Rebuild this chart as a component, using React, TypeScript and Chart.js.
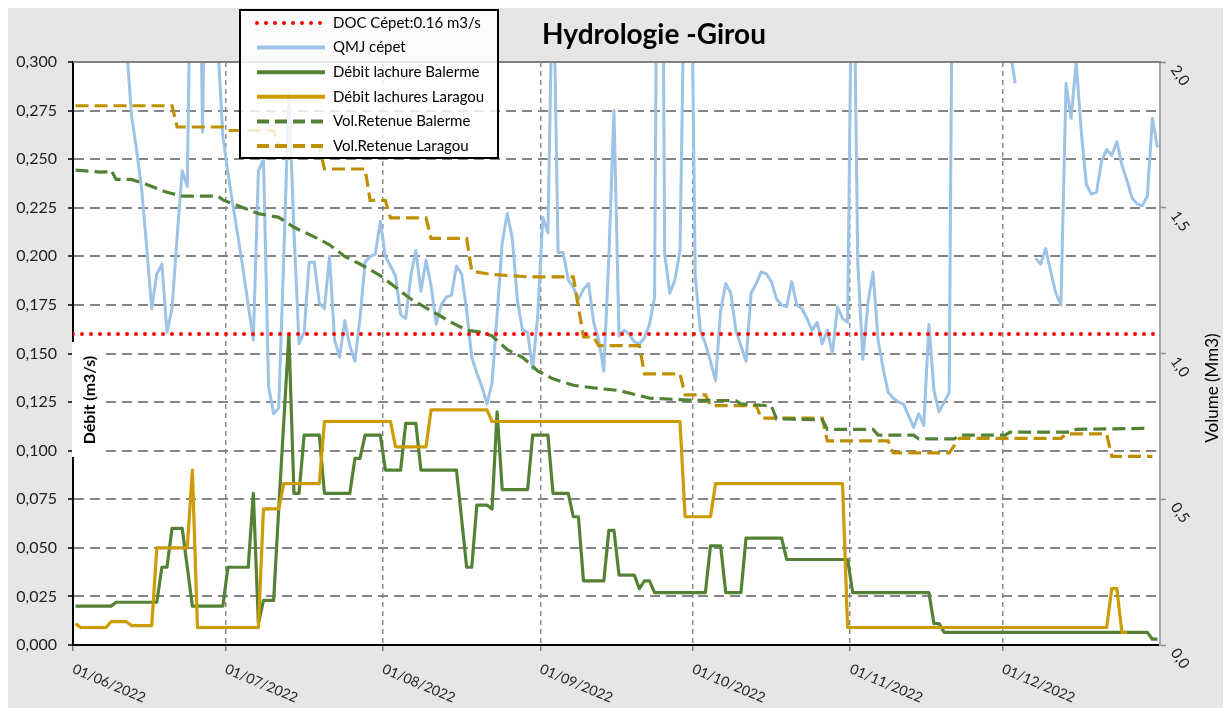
import React, { useEffect, useRef } from 'react';
import { Chart, registerables } from 'chart.js';

Chart.register(...registerables);

// ---------- DATA ----------
const chartTitle = 'Hydrologie -Girou';
const monthStarts = [0, 30, 61, 92, 122, 153, 183]; // day index (0 = 01/06/2022)
const monthLabels = ['01/06/2022', '01/07/2022', '01/08/2022', '01/09/2022', '01/10/2022', '01/11/2022', '01/12/2022'];
const flowTicks = [0, 0.025, 0.05, 0.075, 0.1, 0.125, 0.15, 0.175, 0.2, 0.225, 0.25, 0.275, 0.3];
const volumeTicks = [0, 0.5, 1, 1.5, 2];
const dayMin = -0.5;
const dayMax = 213.5;

const docThreshold = 0.16;

// QMJ Cépet daily mean flow (m3/s), one value per day from 01/06/2022
const qmjCepet: (number | null)[] = [
  0.46, 0.50, 0.44, 0.40, 0.42, 0.38, 0.36, 0.41, 0.37, 0.34,
  0.31, 0.273, 0.255, 0.235, 0.205, 0.173, 0.191, 0.196, 0.161, 0.173,
  0.210, 0.244, 0.236, 0.42, 0.45, 0.264, 0.45, 0.40, 0.31, 0.262,
  0.243, 0.226, 0.210, 0.193, 0.175, 0.157, 0.244, 0.250, 0.133, 0.119,
  0.122, 0.200, 0.284, 0.213, 0.155, 0.161, 0.197, 0.197, 0.176, 0.173,
  0.200, 0.157, 0.148, 0.167, 0.154, 0.146, 0.168, 0.197, 0.200, 0.201,
  0.218, 0.200, 0.195, 0.190, 0.170, 0.168, 0.190, 0.203, 0.182, 0.198,
  0.185, 0.165, 0.175, 0.179, 0.180, 0.195, 0.191, 0.172, 0.148, 0.140,
  0.133, 0.124, 0.135, 0.170, 0.207, 0.222, 0.209, 0.177, 0.162, 0.161,
  0.142, 0.170, 0.220, 0.212, 0.36, 0.202, 0.202, 0.188, 0.184, 0.178,
  0.183, 0.186, 0.166, 0.157, 0.141, 0.200, 0.275, 0.159, 0.162, 0.160,
  0.156, 0.155, 0.158, 0.165, 0.179, 0.60, 0.201, 0.181, 0.188, 0.203,
  0.37, 0.41, 0.190, 0.162, 0.155, 0.146, 0.136, 0.172, 0.186, 0.181,
  0.162, 0.154, 0.146, 0.181, 0.186, 0.192, 0.191, 0.187, 0.178, 0.175,
  0.174, 0.187, 0.175, 0.173, 0.168, 0.162, 0.166, 0.155, 0.162, 0.150,
  0.174, 0.168, 0.166, 0.40, 0.197, 0.147, 0.176, 0.192, 0.157, 0.142,
  0.130, 0.127, 0.125, 0.124, 0.118, 0.112, 0.119, 0.113, 0.165, 0.131,
  0.120, 0.125, 0.130, 0.50, 0.70, 0.62, 0.55, 0.48, 0.52, 0.45,
  0.40, 0.38, 0.36, 0.34, 0.306, 0.289, null, null, null, 0.199,
  0.196, 0.204, 0.192, 0.181, 0.175, 0.289, 0.271, 0.300, 0.264, 0.237,
  0.232, 0.233, 0.249, 0.255, 0.252, 0.259, 0.247, 0.239, 0.230, 0.227,
  0.226, 0.231, 0.271, 0.256,
];

// Débit lachure Balerme (m3/s) – days where the value changes
const balermeDays = [0, 7, 8, 16, 17, 18, 19, 21, 22, 23, 29, 30, 34, 35, 36, 37, 39, 40, 41, 42, 43, 44, 45, 48, 49, 54, 55, 56, 57, 60, 61, 64, 65, 67, 68, 75, 76, 77, 78, 79, 81, 82, 83, 84, 89, 90, 93, 94, 97, 98, 99, 100, 104, 105, 106, 107, 110, 111, 112, 113, 114, 124, 125, 127, 128, 131, 132, 139, 140, 152, 153, 168, 169, 170, 171, 211, 212, 213];
const balermeFlow = [0.020, 0.020, 0.022, 0.022, 0.040, 0.040, 0.060, 0.060, 0.040, 0.020, 0.020, 0.040, 0.040, 0.078, 0.011, 0.023, 0.023, 0.070, 0.115, 0.160, 0.078, 0.078, 0.108, 0.108, 0.078, 0.078, 0.096, 0.096, 0.108, 0.108, 0.090, 0.090, 0.114, 0.114, 0.090, 0.090, 0.065, 0.040, 0.040, 0.072, 0.072, 0.070, 0.120, 0.080, 0.080, 0.108, 0.108, 0.078, 0.078, 0.066, 0.066, 0.033, 0.033, 0.059, 0.059, 0.036, 0.036, 0.029, 0.033, 0.033, 0.027, 0.027, 0.051, 0.051, 0.027, 0.027, 0.055, 0.055, 0.044, 0.044, 0.027, 0.027, 0.011, 0.011, 0.0065, 0.0065, 0.003, 0.003];

// Débit lachures Laragou (m3/s)
const laragouDays = [0, 1, 6, 7, 10, 11, 15, 16, 22, 23, 24, 36, 37, 40, 41, 48, 49, 62, 63, 69, 70, 81, 82, 119, 120, 125, 126, 151, 152, 203, 204, 205, 206, 207];
const laragouFlow = [0.011, 0.009, 0.009, 0.012, 0.012, 0.010, 0.010, 0.050, 0.050, 0.090, 0.009, 0.009, 0.070, 0.070, 0.083, 0.083, 0.115, 0.115, 0.102, 0.102, 0.121, 0.121, 0.115, 0.115, 0.066, 0.066, 0.083, 0.083, 0.009, 0.009, 0.029, 0.029, 0.0065, 0.0065];

// Vol.Retenue Balerme (Mm3)
const volBalermeDays = [0, 5, 6, 7, 8, 11, 14, 18, 21, 28, 29, 32, 36, 40, 43, 47, 50, 53, 56, 60, 63, 66, 70, 74, 77, 80, 82, 85, 88, 91, 94, 98, 103, 107, 113, 121, 130, 131, 137, 138, 147, 148, 157, 158, 165, 166, 173, 174, 183, 184, 196, 197, 211];
const volBalerme = [1.629, 1.622, 1.623, 1.629, 1.597, 1.597, 1.580, 1.553, 1.540, 1.540, 1.527, 1.507, 1.480, 1.467, 1.433, 1.400, 1.373, 1.333, 1.307, 1.267, 1.227, 1.187, 1.147, 1.107, 1.080, 1.073, 1.060, 1.013, 0.987, 0.940, 0.913, 0.891, 0.880, 0.873, 0.847, 0.840, 0.838, 0.827, 0.820, 0.776, 0.773, 0.740, 0.740, 0.720, 0.720, 0.707, 0.707, 0.720, 0.720, 0.730, 0.730, 0.740, 0.743];

// Vol.Retenue Laragou (Mm3)
const volLaragouDays = [0, 19, 20, 29, 30, 39, 40, 48, 49, 57, 58, 61, 62, 69, 70, 77, 78, 82, 89, 98, 100, 102, 103, 111, 112, 119, 120, 124, 125, 134, 135, 147, 148, 160, 161, 172, 174, 194, 195, 203, 204, 212];
const volLaragou = [1.850, 1.850, 1.777, 1.777, 1.765, 1.765, 1.711, 1.711, 1.633, 1.633, 1.525, 1.525, 1.465, 1.465, 1.395, 1.395, 1.282, 1.271, 1.263, 1.263, 1.057, 1.057, 1.027, 1.027, 0.930, 0.930, 0.858, 0.858, 0.821, 0.821, 0.778, 0.778, 0.700, 0.700, 0.659, 0.659, 0.709, 0.709, 0.724, 0.724, 0.647, 0.647];

// ---------- STYLE ----------
const FONT = 'Lato, "Open Sans", "DejaVu Sans", sans-serif';
const C_BLUE = '#9dc3e6';
const C_GREEN = '#548235';
const C_ORANGE = '#cc9c00';
const C_ORANGE_D = '#bf9000';
const C_RED = '#ff0000';
const DASH = [13, 6];

const zip = (xs: number[], ys: (number | null)[]) => xs.map((x, i) => ({ x, y: ys[i] }));

const legendStyles = [
  { color: C_RED, dash: [0, 9], width: 4, cap: 'round' as CanvasLineCap },
  { color: C_BLUE, dash: [], width: 4, cap: 'butt' as CanvasLineCap },
  { color: C_GREEN, dash: [], width: 4, cap: 'butt' as CanvasLineCap },
  { color: C_ORANGE, dash: [], width: 4, cap: 'butt' as CanvasLineCap },
  { color: C_GREEN, dash: [12, 6], width: 4, cap: 'butt' as CanvasLineCap },
  { color: C_ORANGE_D, dash: [12, 6], width: 4, cap: 'butt' as CanvasLineCap },
];

const decorPlugin = {
  id: 'decor',
  beforeDraw(chart: any) {
    const { ctx, chartArea: a, width, height } = chart;
    ctx.save();
    ctx.fillStyle = '#e6e6e6';
    ctx.fillRect(0, 0, width, height);
    ctx.fillStyle = '#ffffff';
    ctx.fillRect(a.left, a.top, a.right - a.left, a.bottom - a.top);
    ctx.restore();
  },
  afterDraw(chart: any) {
    const { ctx, chartArea: a, scales } = chart;
    const xs = scales.x, ys = scales.y, y1 = scales.y1;
    ctx.save();
    // top frame
    ctx.strokeStyle = '#7f7f7f';
    ctx.lineWidth = 2;
    ctx.beginPath();
    ctx.moveTo(a.left, a.top);
    ctx.lineTo(a.right + 1, a.top);
    ctx.stroke();

    // title
    ctx.fillStyle = '#000';
    ctx.font = `bold 28px ${FONT}`;
    ctx.textAlign = 'center';
    ctx.textBaseline = 'alphabetic';
    ctx.fillText(chartTitle, 646, 36);

    // left tick labels
    ctx.fillStyle = '#1f1f1f';
    ctx.font = `16px ${FONT}`;
    ctx.textAlign = 'right';
    ctx.textBaseline = 'middle';
    flowTicks.forEach((v) => {
      ctx.fillText(v.toFixed(3).replace('.', ','), a.left - 16, ys.getPixelForValue(v));
    });

    // right tick labels (rotated)
    ctx.font = `15px ${FONT}`;
    ctx.textAlign = 'left';
    ctx.textBaseline = 'middle';
    volumeTicks.forEach((v) => {
      const py = y1.getPixelForValue(v);
      ctx.save();
      ctx.translate(a.right + 14, py + 5);
      ctx.rotate((55 * Math.PI) / 180);
      ctx.fillText(v.toFixed(1).replace('.', ','), 0, 0);
      ctx.restore();
    });

    // x tick labels (rotated)
    ctx.font = `14px ${FONT}`;
    ctx.textAlign = 'left';
    ctx.textBaseline = 'top';
    monthStarts.forEach((d, i) => {
      const px = xs.getPixelForValue(d - 0.5);
      ctx.save();
      ctx.translate(px + 3, a.bottom + 17);
      ctx.rotate((23 * Math.PI) / 180);
      ctx.fillText(monthLabels[i], 0, 0);
      ctx.restore();
    });

    // left axis title with white box
    ctx.fillStyle = '#ffffff';
    ctx.fillRect(a.left - 1, a.top + 280, 32, 115);
    ctx.save();
    ctx.translate(a.left + 17, a.top + 338);
    ctx.rotate(-Math.PI / 2);
    ctx.fillStyle = '#000';
    ctx.font = `bold 16px ${FONT}`;
    ctx.textAlign = 'center';
    ctx.textBaseline = 'middle';
    ctx.fillText('Débit (m3/s)', 0, 0);
    ctx.restore();

    // right axis title
    ctx.save();
    ctx.translate(a.right + 53, a.top + 326);
    ctx.rotate(-Math.PI / 2);
    ctx.fillStyle = '#000';
    ctx.font = `17px ${FONT}`;
    ctx.textAlign = 'center';
    ctx.textBaseline = 'middle';
    ctx.fillText('Volume (Mm3)', 0, 0);
    ctx.restore();

    // legend
    const bx = 232, by = 2, bw = 258, bh = 148;
    ctx.fillStyle = 'rgba(255,255,255,0.82)';
    ctx.fillRect(bx, by, bw, bh);
    ctx.strokeStyle = '#000';
    ctx.lineWidth = 2;
    ctx.strokeRect(bx, by, bw, bh);
    chart.data.datasets.forEach((ds: any, i: number) => {
      const st = legendStyles[i];
      const ry = by + 13 + i * 24.6;
      ctx.save();
      ctx.strokeStyle = st.color;
      ctx.lineWidth = st.width;
      ctx.lineCap = st.cap;
      ctx.setLineDash(st.dash);
      ctx.beginPath();
      ctx.moveTo(bx + 17, ry);
      ctx.lineTo(bx + 85, ry);
      ctx.stroke();
      ctx.restore();
      ctx.fillStyle = '#000';
      ctx.font = `15px ${FONT}`;
      ctx.textAlign = 'left';
      ctx.textBaseline = 'middle';
      ctx.fillText(ds.label, bx + 93, ry);
    });
    ctx.restore();
  },
};

export default function App() {
  const ref = useRef<HTMLCanvasElement>(null);

  useEffect(() => {
    const canvas = ref.current;
    if (!canvas) return;
    const chart = new Chart(canvas, {
      type: 'line',
      data: {
        datasets: [
          {
            label: 'DOC Cépet:0.16 m3/s',
            data: [{ x: dayMin, y: docThreshold }, { x: dayMax, y: docThreshold }],
            borderColor: C_RED,
            borderWidth: 4,
            borderDash: [0, 9],
            borderCapStyle: 'round',
            pointRadius: 0,
            yAxisID: 'y',
            order: 0,
          },
          {
            label: 'QMJ cépet',
            data: qmjCepet.map((v, i) => ({ x: i, y: v })),
            borderColor: C_BLUE,
            borderWidth: 3,
            borderJoinStyle: 'round',
            pointRadius: 0,
            spanGaps: false,
            yAxisID: 'y',
            order: 5,
          },
          {
            label: 'Débit lachure Balerme',
            data: zip(balermeDays, balermeFlow),
            borderColor: C_GREEN,
            borderWidth: 3.2,
            borderJoinStyle: 'round',
            pointRadius: 0,
            yAxisID: 'y',
            order: 2,
          },
          {
            label: 'Débit lachures Laragou',
            data: zip(laragouDays, laragouFlow),
            borderColor: C_ORANGE,
            borderWidth: 3.2,
            borderJoinStyle: 'round',
            pointRadius: 0,
            yAxisID: 'y',
            order: 1,
          },
          {
            label: 'Vol.Retenue Balerme',
            data: zip(volBalermeDays, volBalerme),
            borderColor: C_GREEN,
            borderWidth: 3.2,
            borderDash: DASH,
            pointRadius: 0,
            yAxisID: 'y1',
            order: 3,
          },
          {
            label: 'Vol.Retenue Laragou',
            data: zip(volLaragouDays, volLaragou),
            borderColor: C_ORANGE_D,
            borderWidth: 3.2,
            borderDash: DASH,
            pointRadius: 0,
            yAxisID: 'y1',
            order: 4,
          },
        ] as any,
      },
      options: {
        responsive: false,
        animation: false,
        devicePixelRatio: 1,
        events: [],
        layout: { padding: { top: 54, left: 0, right: 0, bottom: 0 } },
        elements: { line: { tension: 0 } },
        plugins: {
          legend: { display: false },
          title: { display: false },
          tooltip: { enabled: false },
        },
        scales: {
          x: {
            type: 'linear',
            min: dayMin,
            max: dayMax,
            afterBuildTicks: (s: any) => {
              s.ticks = monthStarts.map((d) => ({ value: d - 0.5 }));
            },
            afterFit: (s: any) => {
              s.height = 63;
            },
            ticks: { display: false },
            grid: {
              color: '#8c8c8c',
              lineWidth: 1.5,
              drawTicks: true,
              tickLength: 6,
              tickColor: '#7f7f7f',
              tickWidth: 1.5,
            },
            border: { display: true, color: '#000000', width: 2, dash: [5, 4] },
          },
          y: {
            type: 'linear',
            position: 'left',
            min: 0,
            max: 0.3,
            afterBuildTicks: (s: any) => {
              s.ticks = flowTicks.map((v) => ({ value: v }));
            },
            afterFit: (s: any) => {
              s.width = 65;
            },
            ticks: { display: false },
            grid: {
              color: '#858585',
              lineWidth: 2,
              drawTicks: true,
              tickLength: 5,
              tickColor: '#000000',
              tickWidth: 1.5,
            },
            border: { display: true, color: '#000000', width: 2, dash: [10, 6] },
          },
          y1: {
            type: 'linear',
            position: 'right',
            min: 0,
            max: 2,
            afterBuildTicks: (s: any) => {
              s.ticks = volumeTicks.map((v) => ({ value: v }));
            },
            afterFit: (s: any) => {
              s.width = 71;
            },
            ticks: { display: false },
            grid: {
              drawOnChartArea: false,
              drawTicks: true,
              tickLength: 6,
              tickColor: '#8c8c8c',
              tickWidth: 1.5,
            },
            border: { display: true, color: '#a6a6a6', width: 2 },
          },
        },
      } as any,
      plugins: [decorPlugin],
    });
    return () => chart.destroy();
  }, []);

  return (
    <div style={{ width: 1223, height: 700 }}>
      <canvas ref={ref} width={1223} height={700} style={{ display: 'block', width: 1223, height: 700 }} />
    </div>
  );
}
